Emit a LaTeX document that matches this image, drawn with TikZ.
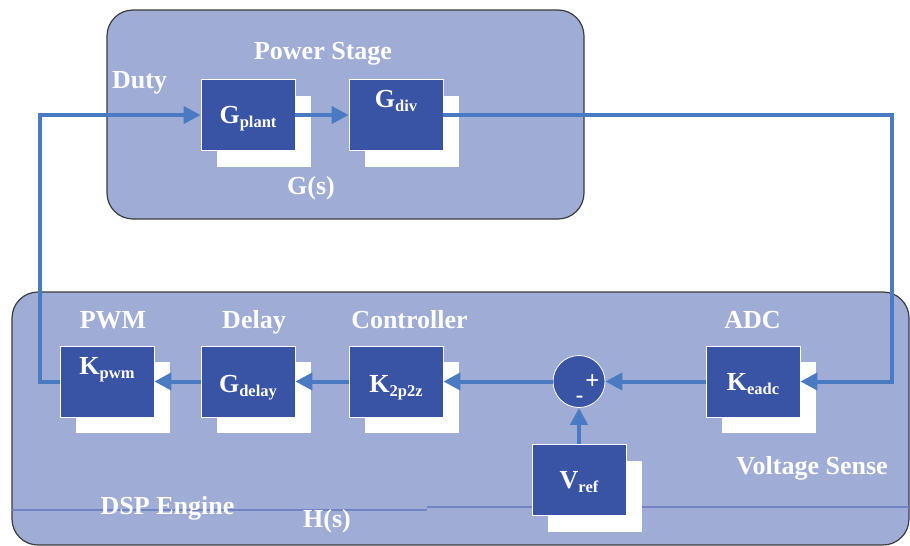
\documentclass[tikz,border=0pt]{standalone}
\usepackage{fontspec}
\setmainfont{Liberation Serif}
\newfontfamily\signfont{Liberation Sans}
\usepackage{tikz}
\usetikzlibrary{
  arrows.meta,
  shadows,
  positioning
}

\definecolor{panelblue}{HTML}{9FACD5}
\definecolor{blockblue}{HTML}{3A54A5}
\definecolor{wireblue}{HTML}{4A7BC2}
\definecolor{ruleblue}{HTML}{7083C2}
\definecolor{edgegray}{HTML}{3C3C3C}

% block label with a lowered subscript
\newcommand{\blk}[2]{#1\raisebox{-4pt}{\fontsize{16.5}{18}\selectfont #2}}

\begin{document}
\begin{tikzpicture}[x=1pt,y=-1pt,
  panel/.style={draw=edgegray,line width=1.2pt,fill=panelblue,rounded corners=26pt},
  box/.style={rectangle,draw=white,line width=0.8pt,fill=blockblue,text=white,
    minimum width=94pt,minimum height=71pt,inner sep=0pt,
    text height=17.5pt,text depth=0pt,
    font=\bfseries\fontsize{26}{30}\selectfont,
    drop shadow={shadow xshift=16pt,shadow yshift=-16pt,fill=white,opacity=1}},
  junction/.style={circle,draw=white,line width=0.8pt,fill=blockblue,minimum size=52pt,inner sep=0pt},
  sign/.style={text=white,inner sep=0pt,font=\signfont\fontsize{24}{26}\selectfont},
  tag/.style={text=white,anchor=base,inner sep=0pt,font=\bfseries\fontsize{26}{30}\selectfont},
  rule/.style={ruleblue,line width=1.5pt},
  flow/.style={wireblue,line width=4pt,-{Triangle[length=17pt,width=17pt]}}]
  \useasboundingbox (0,0) rectangle (910,546);

  % the two panels
  \draw[panel] (107,10) rectangle (584,219);
  \draw[panel] (12,292) rectangle (909,545);
  \draw[rule] (12,510) -- (427,510);
  \draw[rule] (427,507) -- (909,507);

  % power stage
  \node[box] (plant) at (248,115) {\blk{G}{plant}};
  \node[box] (div) at (396,115) {\raisebox{16pt}{\blk{G}{div}}};

  % dsp engine
  \node[box] (pwm) at (107,381.5) {\raisebox{16pt}{\blk{K}{pwm}}};
  \node[box] (delay) at (248,381.5) {\raisebox{-2pt}{\blk{G}{delay}}};
  \node[box] (ctrl) at (396,381.5) {\raisebox{-2pt}{\blk{K}{2p2z}}};
  \node[box] (adc) at (753,381.5) {\blk{K}{eadc}};
  \node[box] (vref) at (579,480) {\blk{V}{ref}};
  \node[junction] (sum) at (579,381.5) {};
  \node[sign] (plus) at ([shift={(13.5,0)}]sum.center) {+};
  \node[sign] (minus) at ([shift={(0.5,18.5)}]sum.center) {-};

  \node[tag] (stage) at (323,59.5) {Power Stage};
  \node[tag] (duty) at (139.5,88) {Duty};
  \node[tag] (gs) at (311,194) {G(s)};
  \node[tag] (pwmtag) at (113,328) {PWM};
  \node[tag] (delaytag) at (254,328) {Delay};
  \node[tag] (ctrltag) at (409.5,328) {Controller};
  \node[tag] (adctag) at (752.5,328) {ADC};
  \node[tag] (sense) at (812,474) {Voltage Sense};
  \node[tag] (dsp) at (167.5,514) {DSP Engine};
  \node[tag] (hs) at (327,527) {H(s)};

  % signal path
  \coordinate (lturn) at (40,381.5);
  \coordinate (rturn) at (892,115);
  \draw[flow] (plant.east) -- (div.west);
  \draw[flow] (div.east) -- (rturn) |- (adc.east);
  \draw[flow] (adc.west) -- (sum.east);
  \draw[flow] (sum.west) -- (ctrl.east);
  \draw[flow] (ctrl.west) -- (delay.east);
  \draw[flow] (delay.west) -- (pwm.east);
  \draw[flow] (pwm.west) -- (lturn) |- (plant.west);
  \draw[flow] (vref.north) -- (sum.south);
\end{tikzpicture}
\end{document}
